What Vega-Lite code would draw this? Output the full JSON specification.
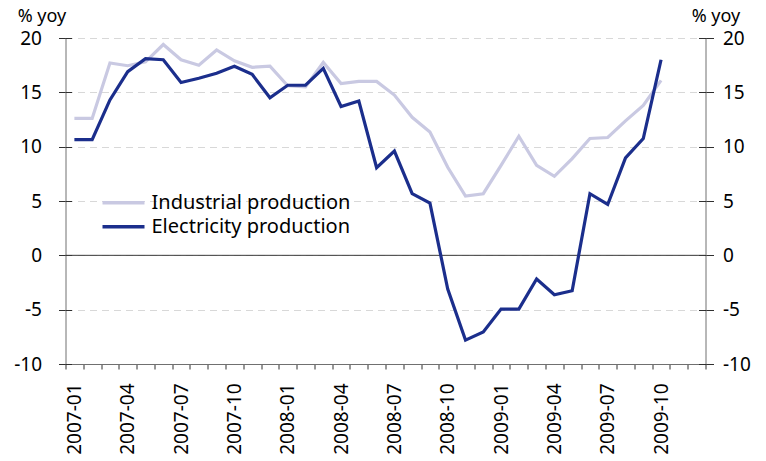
{
  "$schema": "https://vega.github.io/schema/vega-lite/v6.json",
  "width": 640,
  "height": 326,
  "autosize": {"type": "none"},
  "padding": {"left": 65.5, "top": 38, "right": 60.5, "bottom": 97},
  "background": "white",
  "config": {
    "view": {"stroke": null},
    "font": "Noto Sans",
    "axis": {"labelFont": "Noto Sans", "titleFont": "Noto Sans", "labelColor": "#000", "titleColor": "#000"}
  },
  "datasets": {
    "series": [
      {"month": "2007-01", "series": "Industrial production", "value": 12.6},
      {"month": "2007-02", "series": "Industrial production", "value": 12.6},
      {"month": "2007-03", "series": "Industrial production", "value": 17.7},
      {"month": "2007-04", "series": "Industrial production", "value": 17.45},
      {"month": "2007-05", "series": "Industrial production", "value": 17.8},
      {"month": "2007-06", "series": "Industrial production", "value": 19.4},
      {"month": "2007-07", "series": "Industrial production", "value": 18.0},
      {"month": "2007-08", "series": "Industrial production", "value": 17.5},
      {"month": "2007-09", "series": "Industrial production", "value": 18.9},
      {"month": "2007-10", "series": "Industrial production", "value": 17.9},
      {"month": "2007-11", "series": "Industrial production", "value": 17.3},
      {"month": "2007-12", "series": "Industrial production", "value": 17.4},
      {"month": "2008-01", "series": "Industrial production", "value": 15.6},
      {"month": "2008-02", "series": "Industrial production", "value": 15.5},
      {"month": "2008-03", "series": "Industrial production", "value": 17.75},
      {"month": "2008-04", "series": "Industrial production", "value": 15.8},
      {"month": "2008-05", "series": "Industrial production", "value": 16.0},
      {"month": "2008-06", "series": "Industrial production", "value": 16.0},
      {"month": "2008-07", "series": "Industrial production", "value": 14.75},
      {"month": "2008-08", "series": "Industrial production", "value": 12.7},
      {"month": "2008-09", "series": "Industrial production", "value": 11.35},
      {"month": "2008-10", "series": "Industrial production", "value": 8.1},
      {"month": "2008-11", "series": "Industrial production", "value": 5.45},
      {"month": "2008-12", "series": "Industrial production", "value": 5.67},
      {"month": "2009-01", "series": "Industrial production", "value": 8.28},
      {"month": "2009-02", "series": "Industrial production", "value": 10.96},
      {"month": "2009-03", "series": "Industrial production", "value": 8.28},
      {"month": "2009-04", "series": "Industrial production", "value": 7.27},
      {"month": "2009-05", "series": "Industrial production", "value": 8.9},
      {"month": "2009-06", "series": "Industrial production", "value": 10.75},
      {"month": "2009-07", "series": "Industrial production", "value": 10.84},
      {"month": "2009-08", "series": "Industrial production", "value": 12.37},
      {"month": "2009-09", "series": "Industrial production", "value": 13.8},
      {"month": "2009-10", "series": "Industrial production", "value": 16.1},
      {"month": "2007-01", "series": "Electricity production", "value": 10.65},
      {"month": "2007-02", "series": "Electricity production", "value": 10.65},
      {"month": "2007-03", "series": "Electricity production", "value": 14.3},
      {"month": "2007-04", "series": "Electricity production", "value": 16.9},
      {"month": "2007-05", "series": "Electricity production", "value": 18.1},
      {"month": "2007-06", "series": "Electricity production", "value": 18.0},
      {"month": "2007-07", "series": "Electricity production", "value": 15.9},
      {"month": "2007-08", "series": "Electricity production", "value": 16.3},
      {"month": "2007-09", "series": "Electricity production", "value": 16.75},
      {"month": "2007-10", "series": "Electricity production", "value": 17.4},
      {"month": "2007-11", "series": "Electricity production", "value": 16.65},
      {"month": "2007-12", "series": "Electricity production", "value": 14.5},
      {"month": "2008-01", "series": "Electricity production", "value": 15.65},
      {"month": "2008-02", "series": "Electricity production", "value": 15.65},
      {"month": "2008-03", "series": "Electricity production", "value": 17.2},
      {"month": "2008-04", "series": "Electricity production", "value": 13.7},
      {"month": "2008-05", "series": "Electricity production", "value": 14.2},
      {"month": "2008-06", "series": "Electricity production", "value": 8.07},
      {"month": "2008-07", "series": "Electricity production", "value": 9.6},
      {"month": "2008-08", "series": "Electricity production", "value": 5.67},
      {"month": "2008-09", "series": "Electricity production", "value": 4.8},
      {"month": "2008-10", "series": "Electricity production", "value": -3.1},
      {"month": "2008-11", "series": "Electricity production", "value": -7.8},
      {"month": "2008-12", "series": "Electricity production", "value": -7.05},
      {"month": "2009-01", "series": "Electricity production", "value": -4.95},
      {"month": "2009-02", "series": "Electricity production", "value": -4.95},
      {"month": "2009-03", "series": "Electricity production", "value": -2.18},
      {"month": "2009-04", "series": "Electricity production", "value": -3.63},
      {"month": "2009-05", "series": "Electricity production", "value": -3.26},
      {"month": "2009-06", "series": "Electricity production", "value": 5.67},
      {"month": "2009-07", "series": "Electricity production", "value": 4.68},
      {"month": "2009-08", "series": "Electricity production", "value": 8.96},
      {"month": "2009-09", "series": "Electricity production", "value": 10.75},
      {"month": "2009-10", "series": "Electricity production", "value": 18.0}
    ],
    "zero": [{"value": 0}]
  },
  "layer": [
    {
      "data": {"name": "zero"},
      "mark": {"type": "rule", "color": "#3a3a3a", "strokeWidth": 1},
      "encoding": {
        "y": {
          "field": "value", "type": "quantitative",
          "scale": {"domain": [-10, 20], "nice": false, "zero": false},
          "axis": {
            "orient": "right",
            "values": [-10, -5, 0, 5, 10, 15, 20],
            "grid": false,
            "domainColor": "#707070",
            "tickColor": "#303030",
            "tickSize": 8,
            "labelPadding": 9,
            "labelFontSize": 19,
            "labelAlign": "left",
            "labelBaseline": "middle",
            "labelExpr": "'' + datum.value",
            "title": "% yoy",
            "titleFontSize": 18,
            "titleFontWeight": "normal",
            "titleAngle": 0,
            "titleAlign": "center",
            "titleBaseline": "middle",
            "titleX": 10,
            "titleY": -22
          }
        }
      }
    },
    {
      "data": {"name": "series"},
      "transform": [{"filter": "datum.series === 'Industrial production'"}],
      "mark": {"type": "line", "strokeWidth": 3.2},
      "encoding": {
        "x": {
          "field": "month", "type": "ordinal", "bandPosition": 0.5,
          "scale": {
            "type": "band", "paddingInner": 0, "paddingOuter": 0,
            "domain": ["2007-01","2007-02","2007-03","2007-04","2007-05","2007-06","2007-07","2007-08","2007-09","2007-10","2007-11","2007-12","2008-01","2008-02","2008-03","2008-04","2008-05","2008-06","2008-07","2008-08","2008-09","2008-10","2008-11","2008-12","2009-01","2009-02","2009-03","2009-04","2009-05","2009-06","2009-07","2009-08","2009-09","2009-10","2009-11","2009-12"]
          },
          "axis": {
            "title": null,
            "tickBand": "extent",
            "tickSize": 5,
            "tickColor": "#303030",
            "domainColor": "#707070",
            "labelAngle": -90,
            "labelAlign": "right",
            "labelBaseline": "middle",
            "labelPadding": 14,
            "labelFontSize": 19,
            "labelOverlap": false,
            "labelBound": false,
            "labelExpr": "indexof(['01','04','07','10'], substring(datum.value, 5, 7)) >= 0 ? datum.value : ''"
          }
        },
        "y": {
          "field": "value", "type": "quantitative",
          "scale": {"domain": [-10, 20], "nice": false, "zero": false},
          "axis": {
            "orient": "left",
            "values": [-10, -5, 0, 5, 10, 15, 20],
            "grid": true,
            "gridColor": "#d8d8d8",
            "gridDash": [7, 5],
            "domainColor": "#707070",
            "tickColor": "#303030",
            "tickSize": 7,
            "labelPadding": 17,
            "labelFontSize": 19,
            "labelExpr": "'' + datum.value",
            "title": "% yoy",
            "titleFontSize": 18,
            "titleFontWeight": "normal",
            "titleAngle": 0,
            "titleAlign": "center",
            "titleBaseline": "middle",
            "titleX": -24,
            "titleY": -22
          }
        },
        "color": {
          "field": "series", "type": "nominal",
          "scale": {"domain": ["Industrial production", "Electricity production"], "range": ["#c9c9e2", "#1b2e8c"]},
          "legend": {
            "title": null,
            "orient": "none",
            "legendX": 35,
            "legendY": 153,
            "symbolType": "stroke",
            "symbolSize": 1764,
            "symbolStrokeWidth": 3.5,
            "labelFontSize": 20,
            "labelFont": "Noto Sans",
            "labelColor": "#000",
            "labelLimit": 400,
            "labelOffset": 5,
            "clipHeight": 23.5,
            "rowPadding": 0,
            "padding": 0
          }
        }
      }
    },
    {
      "data": {"name": "series"},
      "transform": [{"filter": "datum.series === 'Electricity production'"}],
      "mark": {"type": "line", "strokeWidth": 3.2},
      "encoding": {
        "x": {"field": "month", "type": "ordinal", "bandPosition": 0.5},
        "y": {
          "field": "value", "type": "quantitative",
          "axis": {
            "orient": "left",
            "values": [-10, -5, 0, 5, 10, 15, 20],
            "grid": false,
            "domain": false,
            "labels": false,
            "title": null,
            "tickColor": "#303030",
            "tickSize": -6
          }
        },
        "color": {"field": "series", "type": "nominal"}
      }
    },
    {
      "data": {"name": "zero"},
      "mark": {"type": "rule", "strokeOpacity": 0},
      "encoding": {
        "y": {
          "field": "value", "type": "quantitative",
          "axis": {
            "orient": "right",
            "values": [-10, -5, 0, 5, 10, 15, 20],
            "grid": false,
            "domain": false,
            "labels": false,
            "title": null,
            "tickColor": "#303030",
            "tickSize": -7
          }
        }
      }
    }
  ],
  "resolve": {"axis": {"y": "independent"}}
}
